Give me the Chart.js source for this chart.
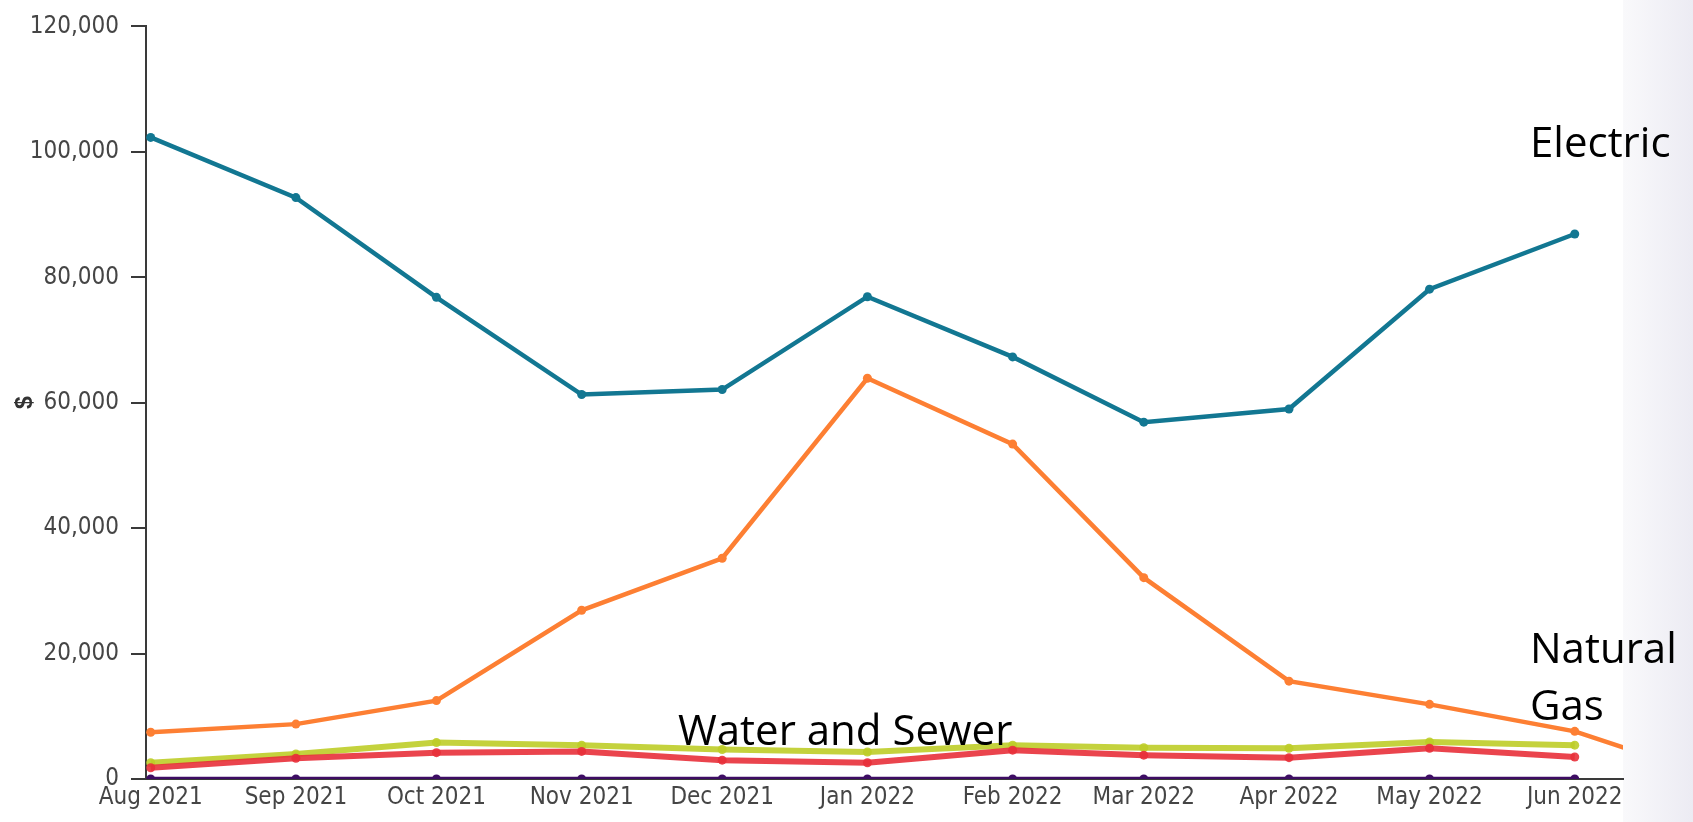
<!DOCTYPE html>
<html>
<head>
<meta charset="utf-8">
<script src="https://cdn.jsdelivr.net/npm/chart.js@4.4.1/dist/chart.umd.min.js"></script>
<style>
  body { margin: 0; background: #fff; }
  #wrap { position: relative; width: 1693px; height: 822px; }
</style>
</head>
<body>
<div id="wrap"><canvas id="utilityChart"></canvas></div>
<script>
// tick labels, one per month
var monthLabels = ['Aug 2021', 'Sep 2021', 'Oct 2021', 'Nov 2021', 'Dec 2021', 'Jan 2022',
                   'Feb 2022', 'Mar 2022', 'Apr 2022', 'May 2022', 'Jun 2022'];
// first day of each month (Jul 2022 is only partly visible for gas)
var monthDates = ['2021-08-01', '2021-09-01', '2021-10-01', '2021-11-01', '2021-12-01', '2022-01-01',
                  '2022-02-01', '2022-03-01', '2022-04-01', '2022-05-01', '2022-06-01', '2022-07-01'];

var electric   = [102300, 92700, 76800, 61300, 62100, 76900, 67300, 56900, 59000, 78100, 86900];
var naturalGas = [7450, 8750, 12500, 26900, 35200, 63900, 53400, 32100, 15600, 11900, 7600, 200];
var water      = [2600, 4000, 5800, 5400, 4700, 4300, 5400, 5000, 4900, 5900, 5400];
var sewer      = [1800, 3300, 4200, 4400, 3000, 2600, 4600, 3800, 3400, 4900, 3500];
var other      = [0, 0, 0, 0, 0, 0, 0, 0, 0, 0, 0];

var yTicks = [0, 20000, 40000, 60000, 80000, 100000, 120000];

// days since the first month, so months sit on a time-like axis
var dayOffsets = monthDates.map(function(d) {
    return (Date.parse(d) - Date.parse(monthDates[0])) / 86400000;
});

function toPoints(values) {
    return values.map(function(v, i) { return { x: dayOffsets[i], y: v }; });
}

function series(label, values, color, width, order) {
    return {
        label: label,
        data: toPoints(values),
        borderColor: color,
        backgroundColor: color,
        borderWidth: width,
        pointRadius: 4.5,
        pointHoverRadius: 4.5,
        pointBorderWidth: 0,
        tension: 0,
        order: order
    };
}

var axisFont = { family: "'Liberation Sans Narrow', 'Arial Narrow', 'DejaVu Sans Condensed', sans-serif", size: 24 };

var sidePanel = {
    id: 'sidePanel',
    beforeDraw: function(chart) {
        var ctx = chart.ctx;
        var g = ctx.createLinearGradient(1623, 0, 1693, 0);
        g.addColorStop(0, '#f9f9fb');
        g.addColorStop(1, '#ecebf3');
        ctx.save();
        ctx.fillStyle = g;
        ctx.fillRect(1623, 0, 70, 822);
        ctx.restore();
    },
    afterDraw: function(chart) {
        var ctx = chart.ctx;
        ctx.save();
        ctx.font = "42px 'Open Sans', sans-serif";
        ctx.fillStyle = '#000';
        ctx.textBaseline = 'alphabetic';
        ctx.fillText('Electric', 1530, 157);
        ctx.fillText('Natural', 1530, 663);
        ctx.fillText('Gas', 1530, 720);
        ctx.fillText('Water and Sewer', 678, 745);
        ctx.restore();
    }
};

var ctx = document.getElementById('utilityChart').getContext('2d');
var utilityChart = new Chart(ctx, {
    type: 'line',
    data: {
        datasets: [
            series('Other', other, '#3d0d63', 4.5, 1),
            series('Sewer', sewer, 'rgba(232, 48, 58, 0.9)', 6, 2),
            series('Water', water, 'rgba(190, 205, 40, 0.9)', 6, 3),
            series('Natural Gas', naturalGas, '#fd7f33', 4.5, 4),
            series('Electric', electric, '#127792', 4.5, 5)
        ]
    },
    plugins: [sidePanel],
    options: {
        responsive: true,
        maintainAspectRatio: false,
        animation: false,
        layout: { padding: { top: 20, right: 70, left: 0, bottom: 0 } },
        plugins: {
            legend: { display: false },
            tooltip: { enabled: false }
        },
        scales: {
            x: {
                type: 'linear',
                min: -1,
                max: 314.3,
                afterBuildTicks: function(scale) {
                    scale.ticks = monthLabels.map(function(l, i) { return { value: dayOffsets[i] }; });
                },
                afterFit: function(scale) { scale.height = 43; },
                grid: { display: false, drawTicks: false },
                border: { display: true, color: '#3a3a3a', width: 2 },
                ticks: {
                    autoSkip: false,
                    maxRotation: 0,
                    padding: 4,
                    color: '#454545',
                    font: axisFont,
                    callback: function(value) {
                        var i = dayOffsets.indexOf(value);
                        return i >= 0 ? monthLabels[i] : '';
                    }
                }
            },
            y: {
                min: 0,
                max: 120000,
                afterBuildTicks: function(scale) {
                    scale.ticks = yTicks.map(function(v) { return { value: v }; });
                },
                afterFit: function(scale) { scale.width = 146; },
                grid: { drawOnChartArea: false, drawTicks: true, tickLength: 15, color: '#3a3a3a', lineWidth: 2 },
                border: { display: true, color: '#3a3a3a', width: 2 },
                title: {
                    display: true,
                    text: '$',
                    color: '#333',
                    padding: { top: 12, bottom: 0 },
                    font: { family: "'Liberation Sans', Arial, sans-serif", size: 23, weight: 'bold' }
                },
                ticks: {
                    padding: 12,
                    color: '#454545',
                    font: axisFont,
                    callback: function(value) { return value.toLocaleString('en-US'); }
                }
            }
        }
    }
});
</script>
</body>
</html>
